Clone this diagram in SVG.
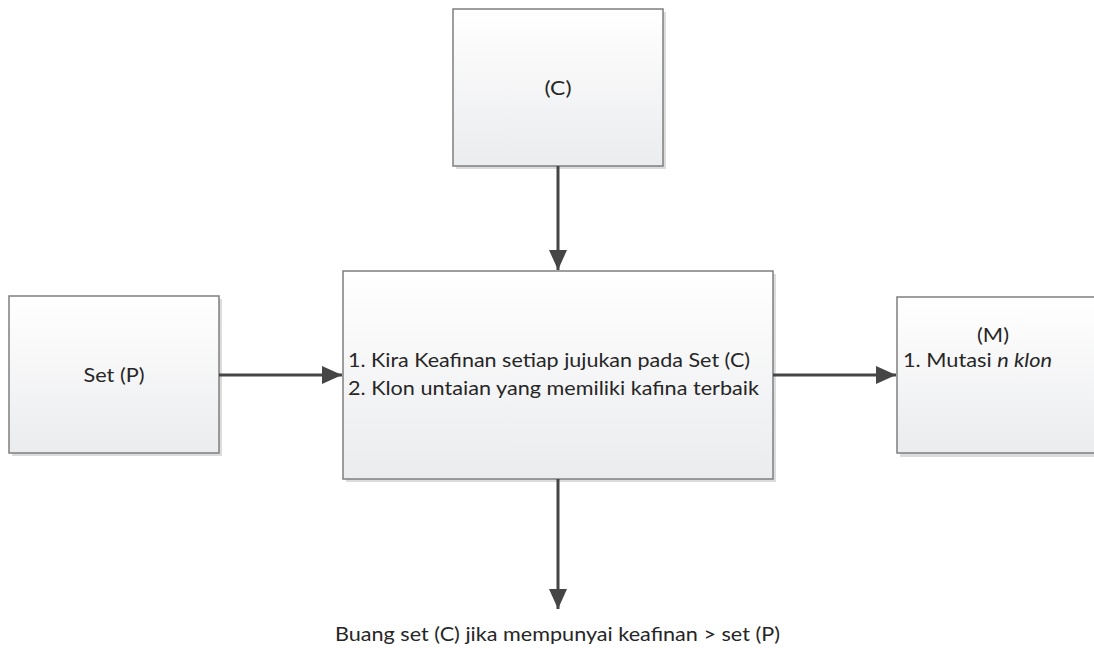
<svg xmlns="http://www.w3.org/2000/svg" width="1094" height="648" viewBox="0 0 1094 648">
<defs>
<linearGradient id="g" x1="0" y1="0" x2="0" y2="1">
<stop offset="0" stop-color="#ffffff"/>
<stop offset="1" stop-color="#ebecee"/>
</linearGradient>
<marker id="a" viewBox="0 0 20 18" refX="20" refY="9" markerWidth="20" markerHeight="18" orient="auto" markerUnits="userSpaceOnUse">
<path d="M0,0 L20,9 L0,18 Z" fill="#454545"/>
</marker>
</defs>
<style>
.box{fill:url(#g);stroke:#7f7f7f;stroke-width:1.5}
.sh{fill:#dcdcdc}
.t{font-family:Lato,"Open Sans","Liberation Sans",sans-serif;font-size:19px;fill:#262626}
.c{stroke:#454545;stroke-width:3;fill:none}
</style>
<rect width="1094" height="648" fill="#ffffff"/>
<g id="node-c">
<rect class="sh" x="456" y="12" width="210" height="157"/>
<rect class="box" x="453" y="9" width="210" height="157"/>
<text class="t" x="558" y="95" text-anchor="middle" textLength="27" lengthAdjust="spacingAndGlyphs">(C)</text>
</g>
<g id="node-p">
<rect class="sh" x="12" y="299" width="210" height="157"/>
<rect class="box" x="9" y="296" width="210" height="157"/>
<text class="t" x="114" y="382" text-anchor="middle" textLength="61" lengthAdjust="spacingAndGlyphs">Set (P)</text>
</g>
<g id="node-main">
<rect class="sh" x="346" y="274" width="430" height="208"/>
<rect class="box" x="343" y="271" width="430" height="208"/>
<text class="t" x="348" y="367" textLength="402" lengthAdjust="spacingAndGlyphs">1. Kira Keafinan setiap jujukan pada Set (C)</text>
<text class="t" x="348" y="395" textLength="411" lengthAdjust="spacingAndGlyphs">2. Klon untaian yang memiliki kafina terbaik</text>
</g>
<g id="node-m">
<rect class="sh" x="900" y="300" width="210" height="157"/>
<rect class="box" x="897" y="297" width="210" height="156"/>
<text class="t" x="993" y="342" text-anchor="middle" textLength="32" lengthAdjust="spacingAndGlyphs">(M)</text>
<text class="t" x="903" y="367" textLength="149" lengthAdjust="spacingAndGlyphs">1. Mutasi <tspan font-style="italic">n klon</tspan></text>
</g>
<g id="node-out">
<text class="t" x="557.5" y="641" text-anchor="middle" textLength="445" lengthAdjust="spacingAndGlyphs">Buang set (C) jika mempunyai keafinan &gt; set (P)</text>
</g>
<g id="connectors">
<line class="c" x1="558" y1="166" x2="558" y2="270" marker-end="url(#a)"/>
<line class="c" x1="219" y1="375" x2="342" y2="375" marker-end="url(#a)"/>
<line class="c" x1="773" y1="375" x2="896" y2="375" marker-end="url(#a)"/>
<line class="c" x1="558" y1="479" x2="558" y2="609" marker-end="url(#a)"/>
</g>
</svg>
